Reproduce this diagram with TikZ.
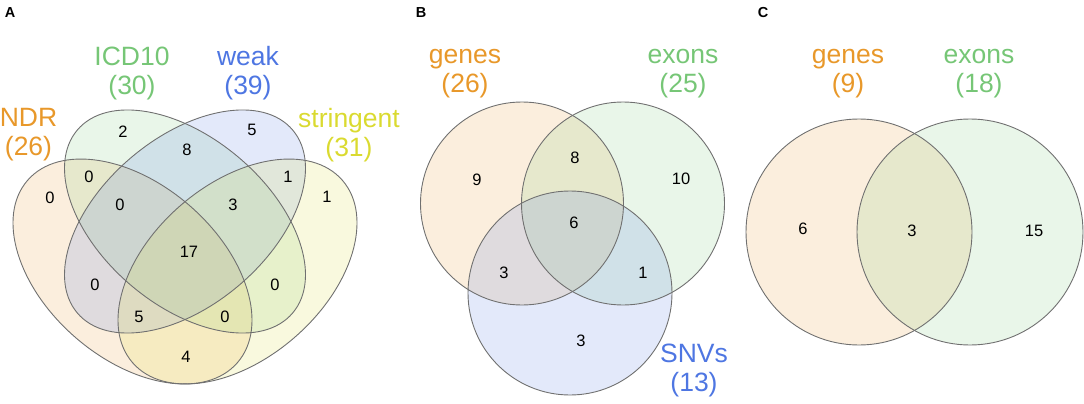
\documentclass[tikz,border=0pt]{standalone}
\usepackage{fontspec}
\setmainfont{Liberation Sans}
\definecolor{cOr}{RGB}{232,152,42}
\definecolor{cGr}{RGB}{118,198,118}
\definecolor{cBl}{RGB}{78,118,226}
\definecolor{cYe}{RGB}{218,218,48}
\definecolor{cLine}{RGB}{112,112,112}
\tikzset{
  setlabel/.style={font=\fontsize{26.5}{29}\selectfont, align=center, inner sep=0pt},
  num/.style={font=\fontsize{16.5}{18}\selectfont, inner sep=0pt, text=black},
  panel/.style={font=\fontsize{14.5}{16}\selectfont\bfseries, inner sep=0pt},
  vfill/.style={fill=#1, fill opacity=0.16, draw=none},
  vline/.style={draw=cLine, line width=0.9pt}
}
% outer ellipses (NDR, stringent) and inner ellipses (ICD10, weak)
\newcommand{\outerell}[4]{% cx, cy, rot, style
  \begin{scope}[shift={(#1,#2)}]
    \path[#4, rotate=#3] (0,0) ellipse (139pt and 87.2pt);
  \end{scope}}
\newcommand{\innerell}[4]{% cx, cy, rot, style
  \begin{scope}[shift={(#1,#2)}]
    \path[#4, rotate=#3] (0,0) ellipse (141.3pt and 83.6pt);
  \end{scope}}
\begin{document}
\begin{tikzpicture}[x=1pt, y=-1pt]
\useasboundingbox (0,0) rectangle (1084,404);
% ---------------- Panel A ----------------
\outerell{132.5}{271.5}{-41}{vfill=cOr}
\innerell{185}{221.5}{-40.4}{vfill=cGr}
\innerell{185}{221.5}{40.4}{vfill=cBl}
\outerell{237.5}{271.5}{41}{vfill=cYe}
\outerell{132.5}{271.5}{-41}{vline}
\innerell{185}{221.5}{-40.4}{vline}
\innerell{185}{221.5}{40.4}{vline}
\outerell{237.5}{271.5}{41}{vline}
\node[panel] (pA) at (10,13) {A};
\node[setlabel, text=cOr] (lNDR) at (28.5,135) {NDR\\(26)};
\node[setlabel, text=cGr] (lICD) at (132,73.5) {ICD10\\(30)};
\node[setlabel, text=cBl] (lWeak) at (248,73.5) {weak\\(39)};
\node[setlabel, text=cYe] (lStr) at (349,135) {stringent\\(31)};
\node[num] (a1) at (50,198) {0};
\node[num] (a2) at (123,132) {2};
\node[num] (a3) at (252,130) {5};
\node[num] (a4) at (327,197) {1};
\node[num] (a5) at (89,177) {0};
\node[num] (a6) at (187,150) {8};
\node[num] (a7) at (288,177) {1};
\node[num] (a8) at (120,205) {0};
\node[num] (a9) at (233,205) {3};
\node[num] (a10) at (189,252) {17};
\node[num] (a11) at (95,285) {0};
\node[num] (a12) at (275,285) {0};
\node[num] (a13) at (139,317) {5};
\node[num] (a14) at (225,317) {0};
\node[num] (a15) at (186,357) {4};
% ---------------- Panel B ----------------
\path[vfill=cOr] (522,203.5) circle (101.5pt);
\path[vfill=cGr] (623,203.5) circle (101.5pt);
\path[vfill=cBl] (570,293) circle (102pt);
\draw[vline] (522,203.5) circle (101.5pt);
\draw[vline] (623,203.5) circle (101.5pt);
\draw[vline] (570,293) circle (102pt);
\node[panel] (pB) at (421,13) {B};
\node[setlabel, text=cOr] (lGenesB) at (465,73.5) {genes\\(26)};
\node[setlabel, text=cGr] (lExonsB) at (683,73.5) {exons\\(25)};
\node[setlabel, text=cBl] (lSNV) at (694,370) {SNVs\\(13)};
\node[num] (b1) at (477,180) {9};
\node[num] (b2) at (575,158) {8};
\node[num] (b3) at (681,179) {10};
\node[num] (b4) at (574,223) {6};
\node[num] (b5) at (504,273) {3};
\node[num] (b6) at (643,273) {1};
\node[num] (b7) at (581,341) {3};
% ---------------- Panel C ----------------
\path[vfill=cOr] (859,232) circle (113pt);
\path[vfill=cGr] (970,232) circle (113pt);
\draw[vline] (859,232) circle (113pt);
\draw[vline] (970,232) circle (113pt);
\node[panel] (pC) at (763,13) {C};
\node[setlabel, text=cOr] (lGenesC) at (848,73.5) {genes\\(9)};
\node[setlabel, text=cGr] (lExonsC) at (979,73.5) {exons\\(18)};
\node[num] (c1) at (803,229) {6};
\node[num] (c2) at (912,231) {3};
\node[num] (c3) at (1034,231) {15};
\end{tikzpicture}
\end{document}
